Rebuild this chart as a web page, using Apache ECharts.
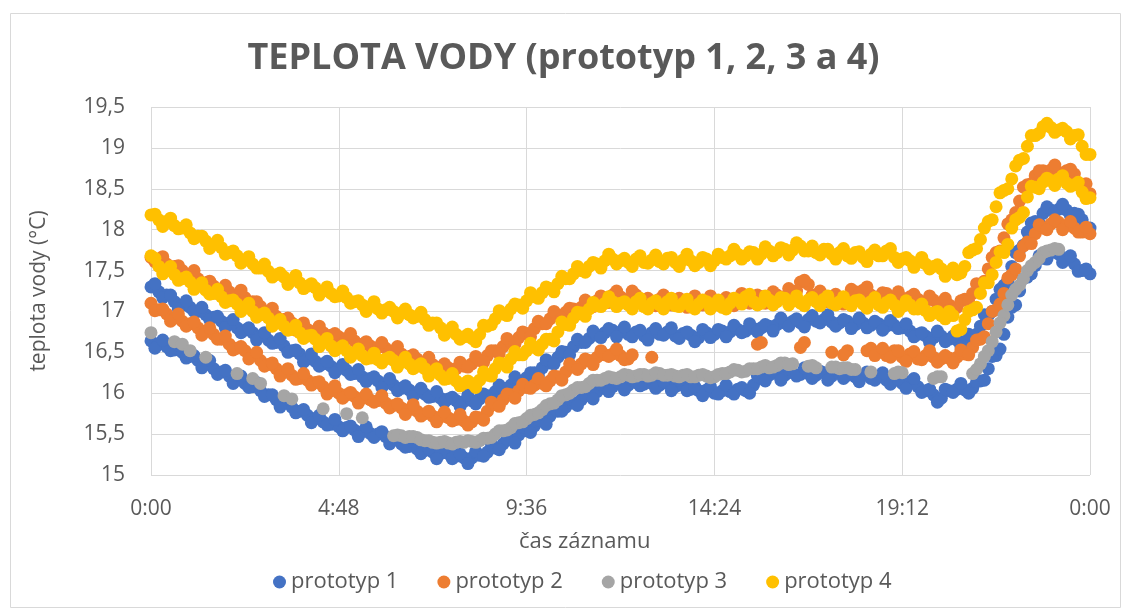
<!DOCTYPE html>
<html>
<head>
<meta charset="utf-8">
<script src="https://cdn.jsdelivr.net/npm/echarts@6/dist/echarts.min.js"></script>
<style>
html,body{margin:0;padding:0;background:#fff;}
#chart{width:1127px;height:612px;}
</style>
</head>
<body>
<div id="chart"></div>
<script>
// readings every 12 min; the second list of each band is taken 6 min later
var step = 0.2;
var xTicks = ['0:00','4:48','9:36','14:24','19:12','0:00'];
var yTicks = ['15','15,5','16','16,5','17','17,5','18','18,5','19','19,5'];
var names = ['prototyp 1','prototyp 2','prototyp 3','prototyp 4'];

// prototyp 1 - upper band
var p1a = [17.30,17.24,17.20,17.12,17.08,17.05,17.00,16.96,16.93,16.88,
16.86,16.80,16.77,16.74,16.70,16.65,16.62,16.58,16.52,16.48,
16.42,16.39,16.36,16.33,16.30,16.28,16.24,16.20,16.18,16.15,
16.12,16.10,16.06,16.04,16.01,15.99,15.96,15.94,15.93,15.91,
15.90,15.91,15.93,15.97,16.02,16.06,16.10,16.15,16.19,16.25,
16.31,16.37,16.44,16.50,16.57,16.62,16.67,16.71,16.74,16.77,
16.75,16.72,16.75,16.70,16.74,16.72,16.75,16.70,16.73,16.71,
16.68,16.74,16.72,16.76,16.75,16.78,16.76,16.79,16.80,16.82,
16.84,16.86,16.88,16.86,16.90,16.88,16.90,16.87,16.86,16.88,
16.84,16.86,16.83,16.85,16.82,16.83,16.80,16.76,16.72,16.70,
16.68,16.70,16.66,16.65,16.63,16.68,16.82,16.95,17.15,17.32,
17.55,17.75,17.97,18.10,18.20,18.24,18.25,18.24,18.20,18.12,
18.02];
var p1aHalf = [17.34,17.17,17.20,17.03,17.13,17.00,17.05,16.90,16.94,16.80,
16.90,16.74,16.80,16.65,16.74,16.61,16.67,16.50,16.53,16.38,
16.48,16.33,16.39,16.25,16.35,16.23,16.29,16.14,16.20,16.07,
16.18,16.03,16.09,15.96,16.06,15.95,16.02,15.89,15.95,15.84,
15.98,15.87,15.99,15.93,16.10,16.05,16.20,16.12,16.25,16.21,
16.41,16.36,16.51,16.47,16.66,16.62,16.76,16.68,16.79,16.69,
16.81,16.69,16.77,16.65,16.79,16.71,16.80,16.67,16.75,16.63,
16.78,16.68,16.78,16.69,16.83,16.74,16.85,16.75,16.84,16.76,
16.92,16.82,16.91,16.81,16.95,16.86,16.96,16.82,16.90,16.79,
16.92,16.80,16.88,16.77,16.89,16.79,16.85,16.69,16.74,16.62,
16.76,16.63,16.70,16.57,16.72,16.72,16.96,17.00,17.27,17.37,
17.72,17.81,18.08,18.08,18.28,18.22,18.31,18.17,18.19,18.00];
// prototyp 1 - lower band
var p1b = [16.64,16.60,16.57,16.53,16.50,16.45,16.40,16.35,16.30,16.26,
16.21,16.17,16.12,16.08,16.03,15.98,15.92,15.88,15.83,15.78,
15.73,15.69,15.65,15.62,15.59,15.58,15.55,15.53,15.51,15.50,
15.47,15.43,15.38,15.35,15.32,15.30,15.28,15.26,15.26,15.23,
15.21,15.21,15.24,15.28,15.33,15.38,15.43,15.49,15.54,15.60,
15.66,15.72,15.78,15.83,15.88,15.92,15.97,16.02,16.06,16.08,
16.12,16.10,16.13,16.11,16.12,16.10,16.12,16.08,16.10,16.05,
16.03,16.04,16.00,16.03,16.02,16.05,16.03,16.10,16.18,16.22,
16.24,16.22,16.25,16.23,16.24,16.22,16.25,16.21,16.24,16.22,
16.20,16.22,16.18,16.20,16.16,16.16,16.12,16.14,16.08,16.03,
15.98,15.94,16.03,16.05,16.04,16.06,16.15,16.30,16.46,16.72,
17.05,17.25,17.42,17.56,17.65,17.72,17.70,17.64,17.58,17.50,
17.46];
var p1bHalf = [16.55,16.65,16.52,16.59,16.43,16.46,16.31,16.40,16.23,16.28,
16.12,16.21,16.07,16.13,15.96,15.98,15.83,15.93,15.76,15.80,
15.64,15.73,15.61,15.68,15.54,15.60,15.47,15.59,15.46,15.53,
15.38,15.47,15.34,15.41,15.26,15.32,15.20,15.33,15.20,15.26,
15.14,15.29,15.23,15.38,15.31,15.44,15.39,15.59,15.52,15.67,
15.62,15.81,15.78,15.93,15.85,15.98,15.93,16.11,16.02,16.14,
16.04,16.18,16.09,16.19,16.06,16.14,16.03,16.16,16.03,16.08,
15.97,16.08,15.99,16.10,15.99,16.07,16.00,16.21,16.15,16.27,
16.16,16.30,16.21,16.31,16.18,16.27,16.16,16.30,16.18,16.25,
16.14,16.26,16.16,16.25,16.11,16.17,16.06,16.18,16.01,16.05,
15.89,16.05,16.01,16.12,16.00,16.14,16.16,16.45,16.54,16.93,
17.08,17.40,17.46,17.68,17.64,17.74,17.60,17.68,17.49,17.52];

// prototyp 2 - upper band
var p2a = [17.66,17.62,17.58,17.55,17.50,17.45,17.40,17.35,17.31,17.27,
17.24,17.20,17.17,17.12,17.06,17.00,16.94,16.90,16.86,16.82,
16.78,16.76,16.74,16.71,16.69,16.67,16.64,16.60,16.58,16.56,
16.55,16.52,16.48,16.45,16.42,16.38,16.35,16.32,16.31,16.30,
16.33,16.36,16.40,16.46,16.52,16.57,16.62,16.68,16.73,16.79,
16.85,16.91,16.95,16.99,17.03,17.05,17.09,17.13,17.16,17.20,
17.18,17.15,17.20,17.14,17.12,17.15,17.11,17.14,17.10,17.13,
17.12,17.10,17.14,17.12,17.15,17.13,17.16,17.14,17.18,17.16,
17.20,17.18,17.24,17.36,17.33,17.20,17.16,17.18,17.15,17.17,
17.24,17.26,17.20,17.18,17.22,17.18,17.16,17.18,17.15,17.12,
17.14,17.10,17.08,17.05,17.15,17.22,17.32,17.52,17.72,17.90,
18.12,18.35,18.55,18.66,18.72,18.73,18.70,18.72,18.68,18.55,
18.44];
var p2aHalf = [17.61,17.67,17.52,17.56,17.41,17.50,17.33,17.37,17.22,17.32,
17.19,17.26,17.10,17.12,16.96,17.04,16.87,16.92,16.77,16.86,
16.74,16.82,16.68,16.73,16.61,16.73,16.57,16.63,16.50,16.62,
16.51,16.57,16.42,16.47,16.33,16.44,16.29,16.36,16.24,16.38,
16.32,16.45,16.38,16.52,16.48,16.67,16.60,16.75,16.69,16.88,
16.85,17.00,16.92,17.04,16.97,17.14,17.06,17.19,17.11,17.25,
17.14,17.25,17.12,17.16,17.07,17.20,17.08,17.16,17.05,17.19,
17.08,17.19,17.08,17.17,17.07,17.22,17.10,17.20,17.10,17.24,
17.16,17.28,17.25,17.38,17.20,17.25,17.12,17.21,17.09,17.27,
17.22,17.30,17.14,17.23,17.13,17.24,17.12,17.21,17.07,17.19,
17.09,17.16,17.02,17.13,17.12,17.34,17.37,17.66,17.74,18.07,
18.21,18.52,18.56,18.72,18.66,18.79,18.66,18.74,18.55,18.56];
// prototyp 2 - lower band (only a few readings between 12 and 18 h)
var p2b = [17.10,17.02,16.97,16.92,16.88,16.85,16.80,16.76,16.72,16.66,
16.60,16.55,16.52,16.46,16.40,16.35,16.30,16.26,16.22,16.18,
16.16,16.13,16.08,16.03,16.00,15.98,15.96,15.94,15.92,15.91,
15.88,15.85,15.82,15.80,15.78,15.75,15.72,15.71,15.70,15.68,
15.66,15.65,15.70,15.78,15.86,15.92,15.98,16.03,16.07,16.10,
16.12,16.15,16.20,16.26,16.32,16.36,16.40,16.44,16.47,16.48,
16.46,16.42,null,null,16.44,null,null,null,null,null,
null,null,null,null,null,null,null,null,16.62,null,
null,null,null,16.56,null,null,null,16.50,null,16.52,
null,null,16.55,16.50,16.46,16.52,16.44,16.48,16.42,16.46,
16.44,16.42,16.43,16.44,16.48,16.56,16.66,16.85,17.02,17.22,
17.45,17.68,17.85,17.95,18.02,18.07,18.09,18.05,18.02,17.97,
17.95];
var p2bHalf = [17.01,17.03,16.88,16.97,16.82,16.87,16.71,16.80,16.66,16.70,
16.53,16.57,16.42,16.50,16.33,16.37,16.21,16.30,16.17,16.24,
16.10,16.14,15.99,16.09,15.94,16.01,15.88,15.99,15.89,15.97,
15.82,15.87,15.74,15.86,15.72,15.78,15.65,15.77,15.66,15.74,
15.61,15.71,15.67,15.89,15.84,15.99,15.94,16.11,16.06,16.18,
16.09,16.21,16.16,16.36,16.29,16.42,16.35,16.52,16.45,16.54,
16.41,16.47,null,null,null,null,null,null,null,null,
null,null,null,null,null,null,null,16.60,null,null,
null,null,null,16.62,null,null,null,null,16.47,null,
null,16.52,16.46,16.55,16.44,16.52,16.39,16.51,16.41,16.52,
16.38,16.46,16.37,16.53,16.47,16.65,16.69,17.00,17.09,17.41,
17.52,17.80,17.83,18.06,18.00,18.12,18.00,18.10,17.97,18.03];

// prototyp 3 (sparse in the morning, stops at about 23 h)
var p3 = [16.74,null,null,16.63,16.60,16.52,null,16.44,null,null,
null,16.24,null,16.18,16.12,null,null,15.97,15.93,null,
null,null,15.81,null,null,15.75,null,15.70,null,null,
null,15.48,15.48,15.47,15.46,15.42,15.40,15.40,15.39,15.40,
15.40,15.41,15.42,15.45,15.50,15.54,15.58,15.64,15.69,15.74,
15.80,15.87,15.92,15.98,16.04,16.07,16.12,16.16,16.18,16.19,
16.20,16.22,16.21,16.23,16.22,16.24,16.22,16.21,16.22,16.20,
16.22,16.21,16.20,16.24,16.26,16.28,16.27,16.30,16.32,16.31,
16.34,16.37,16.36,null,16.33,16.31,null,16.32,16.30,16.31,
16.29,null,16.26,null,null,16.24,16.25,null,null,null,
16.18,16.20,null,null,null,16.24,16.36,16.52,16.75,16.95,
17.20,17.32,17.50,17.60,17.72,17.75,17.76,null,null,null,
null];
var p3Half = [null,null,null,null,null,null,null,null,null,null,
null,null,null,null,null,null,null,null,null,null,
null,null,null,null,null,null,null,null,null,null,
null,15.49,15.46,15.47,15.43,15.42,15.39,15.41,15.38,15.41,
15.42,15.40,15.45,15.46,15.54,15.55,15.63,15.65,15.73,15.76,
15.85,15.88,15.97,16.00,16.07,16.08,16.16,16.16,16.20,16.18,
16.23,16.20,16.23,16.21,16.25,16.22,16.23,16.20,16.23,16.20,
16.23,16.19,16.23,16.24,16.29,16.26,16.30,16.30,16.34,16.32,
16.37,16.35,null,null,16.34,null,null,16.32,16.31,16.29,
null,null,null,null,null,16.26,null,null,null,null,
16.20,null,null,null,null,16.29,16.45,16.63,16.86,17.08,
17.27,17.40,17.56,17.65,17.74,17.77,null,null,null,null];

// prototyp 4 - upper band
var p4a = [18.18,18.12,18.10,18.05,18.02,17.96,17.92,17.86,17.82,17.78,
17.72,17.68,17.63,17.58,17.53,17.49,17.45,17.42,17.38,17.35,
17.31,17.29,17.25,17.22,17.19,17.17,17.12,17.08,17.06,17.03,
17.02,17.00,16.98,16.96,16.94,16.90,16.86,16.80,16.76,16.72,
16.69,16.67,16.72,16.82,16.91,16.97,17.03,17.08,17.13,17.18,
17.23,17.28,17.34,17.40,17.46,17.50,17.55,17.58,17.62,17.64,
17.62,17.60,17.64,17.60,17.63,17.61,17.65,17.60,17.63,17.62,
17.60,17.64,17.62,17.66,17.68,17.70,17.68,17.72,17.70,17.74,
17.72,17.76,17.75,17.80,17.74,17.72,17.76,17.70,17.72,17.68,
17.72,17.66,17.70,17.68,17.74,17.66,17.64,17.62,17.60,17.58,
17.55,17.52,17.48,17.45,17.55,17.75,17.88,18.10,18.28,18.48,
18.62,18.85,19.02,19.15,19.26,19.25,19.22,19.20,19.15,19.02,
18.92];
var p4aHalf = [18.19,18.04,18.14,18.01,18.06,17.89,17.92,17.77,17.87,17.70,
17.74,17.59,17.67,17.53,17.58,17.42,17.47,17.33,17.44,17.28,
17.34,17.20,17.30,17.18,17.25,17.10,17.13,17.00,17.12,16.98,
17.05,16.92,17.03,16.92,16.99,16.83,16.86,16.71,16.81,16.66,
16.72,16.63,16.83,16.84,17.01,16.95,17.09,17.04,17.23,17.16,
17.30,17.24,17.43,17.40,17.55,17.48,17.60,17.53,17.70,17.58,
17.65,17.55,17.68,17.59,17.69,17.58,17.66,17.55,17.70,17.56,
17.66,17.56,17.70,17.64,17.76,17.64,17.73,17.64,17.79,17.68,
17.78,17.69,17.84,17.74,17.80,17.69,17.76,17.64,17.77,17.65,
17.73,17.61,17.75,17.68,17.77,17.60,17.66,17.54,17.66,17.52,
17.57,17.43,17.53,17.47,17.72,17.77,18.02,18.12,18.45,18.50,
18.78,18.87,19.15,19.18,19.30,19.19,19.24,19.11,19.16,18.92];
// prototyp 4 - lower band
var p4b = [17.68,17.55,17.50,17.45,17.40,17.36,17.31,17.26,17.22,17.18,
17.13,17.09,17.05,17.00,16.96,16.92,16.86,16.82,16.78,16.74,
16.70,16.66,16.62,16.58,16.55,16.52,16.49,16.46,16.43,16.41,
16.42,16.40,16.38,16.36,16.33,16.30,16.26,16.22,16.18,16.15,
16.12,16.12,16.16,16.22,16.30,16.36,16.42,16.47,16.52,16.56,
16.60,16.66,16.75,16.84,16.92,16.98,17.03,17.07,17.10,17.12,
17.10,17.08,17.12,17.06,17.10,17.08,17.12,17.07,17.10,17.06,
17.09,17.12,17.08,17.05,17.10,17.14,17.18,17.12,17.10,17.14,
17.12,17.16,17.13,17.10,17.14,17.12,17.15,17.10,17.12,17.10,
17.13,17.09,17.12,17.08,17.11,17.08,17.06,17.08,17.03,17.01,
16.98,16.95,17.00,16.76,16.90,17.02,17.22,17.35,17.60,17.72,
18.02,18.15,18.40,18.52,18.58,18.60,18.62,18.57,18.55,18.46,
18.39];
var p4bHalf = [17.65,17.46,17.55,17.38,17.42,17.27,17.35,17.21,17.27,17.11,
17.14,17.00,17.10,16.93,16.98,16.82,16.90,16.77,16.83,16.67,
16.71,16.57,16.67,16.52,16.58,16.44,16.54,16.42,16.49,16.37,
16.44,16.32,16.44,16.30,16.36,16.21,16.30,16.17,16.24,16.09,
16.15,16.07,16.26,16.21,16.37,16.32,16.51,16.47,16.61,16.53,
16.66,16.64,16.87,16.83,16.99,16.94,17.11,17.06,17.18,17.06,
17.12,17.03,17.16,17.03,17.13,17.03,17.16,17.06,17.15,17.03,
17.14,17.03,17.14,17.03,17.16,17.09,17.21,17.08,17.19,17.08,
17.17,17.08,17.19,17.07,17.17,17.07,17.19,17.08,17.18,17.07,
17.14,17.04,17.17,17.05,17.14,17.00,17.13,17.03,17.09,16.95,
17.00,16.91,16.95,16.78,17.00,17.05,17.35,17.45,17.73,17.82,
18.12,18.21,18.53,18.50,18.63,18.54,18.66,18.53,18.58,18.38];

var colors = ['#4472C4','#ED7D31','#A5A5A5','#FFC000'];
var font = '"Open Sans", sans-serif';

// turn a list of readings into [hour, value] pairs, skipping gaps
function addPoints(pts, arr, offset) {
    for (var i = 0; i < arr.length; i++) {
        if (arr[i] !== null) pts.push([i * step + offset, arr[i]]);
    }
    return pts;
}

var seriesData = [[], [], [], []];
addPoints(seriesData[0], p1a, 0); addPoints(seriesData[0], p1aHalf, step / 2);
addPoints(seriesData[0], p1b, 0); addPoints(seriesData[0], p1bHalf, step / 2);
addPoints(seriesData[1], p2a, 0); addPoints(seriesData[1], p2aHalf, step / 2);
addPoints(seriesData[1], p2b, 0); addPoints(seriesData[1], p2bHalf, step / 2);
addPoints(seriesData[2], p3, 0); addPoints(seriesData[2], p3Half, step / 2);
addPoints(seriesData[3], p4a, 0); addPoints(seriesData[3], p4aHalf, step / 2);
addPoints(seriesData[3], p4b, 0); addPoints(seriesData[3], p4bHalf, step / 2);

var series = [];
for (var s = 0; s < 4; s++) {
    series.push({
        name: names[s],
        type: 'scatter',
        symbolSize: 13,
        itemStyle: {color: colors[s], opacity: 1},
        data: seriesData[s]
    });
}

var chart = echarts.init(document.getElementById('chart'));
chart.setOption({
    animation: false,
    color: colors,
    textStyle: {fontFamily: font},
    title: {
        text: 'TEPLOTA VODY (prototyp 1, 2, 3 a 4)',
        left: 'center',
        top: 36,
        textStyle: {fontSize: 36, fontWeight: 'bold', color: '#595959', fontFamily: font}
    },
    legend: {
        left: 268,
        top: 566,
        icon: 'circle',
        itemWidth: 13,
        itemHeight: 13,
        itemGap: 39,
        textStyle: {fontSize: 22, color: '#595959', fontFamily: font},
        data: names
    },
    grid: {left: 151, right: 37, top: 107, bottom: 137},
    xAxis: {
        type: 'value',
        min: 0,
        max: 24,
        interval: 4.8,
        axisLine: {show: false},
        axisTick: {show: false},
        splitLine: {show: true, lineStyle: {color: '#d9d9d9', width: 1}},
        axisLabel: {
            fontSize: 21, color: '#595959', margin: 24, fontFamily: font,
            formatter: function (v) { return xTicks[Math.round(v / 4.8)]; }
        }
    },
    yAxis: {
        type: 'value',
        min: 15,
        max: 19.5,
        interval: 0.5,
        name: 'teplota vody (°C)',
        nameLocation: 'middle',
        nameGap: 101,
        nameTextStyle: {fontSize: 21, color: '#595959', fontFamily: font},
        axisLine: {show: false},
        axisTick: {show: false},
        splitLine: {lineStyle: {color: '#d9d9d9', width: 1}},
        axisLabel: {
            fontSize: 21, color: '#595959', margin: 26, fontFamily: font,
            formatter: function (v) { return yTicks[Math.round((v - 15) / 0.5)]; }
        }
    },
    graphic: [
        {type: 'rect', left: 8, top: 11, shape: {width: 1110, height: 594},
         style: {fill: null, stroke: '#d9d9d9', lineWidth: 1}, silent: true},
        {type: 'text', left: 519, top: 531,
         style: {text: 'čas záznamu', fill: '#595959', font: '22px "Open Sans", sans-serif'}}
    ],
    series: series
});
</script>
</body>
</html>
